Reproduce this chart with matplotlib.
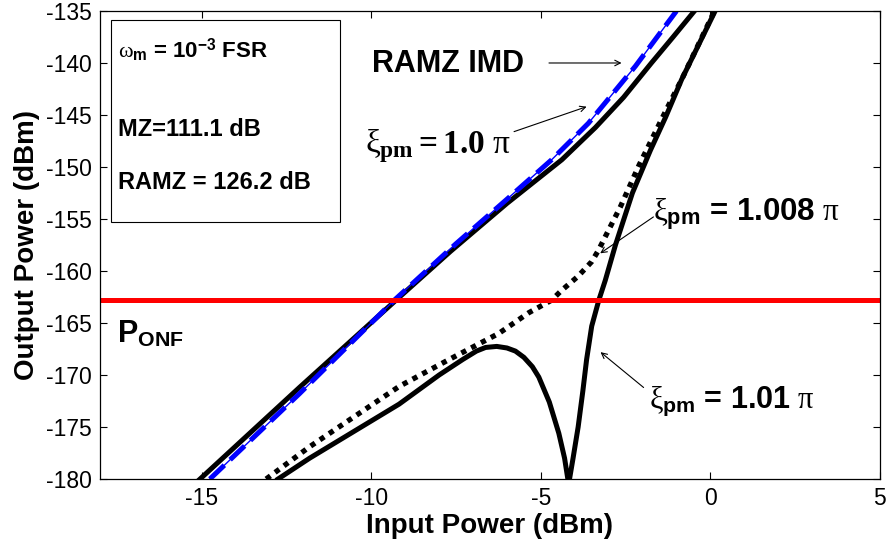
import numpy as np
import matplotlib
matplotlib.use("Agg")
import matplotlib.pyplot as plt
from matplotlib.patches import Rectangle

plt.rcParams['font.family'] = ['Liberation Sans', 'DejaVu Sans']
plt.rcParams['axes.unicode_minus'] = False
plt.rcParams['mathtext.fontset'] = 'custom'
plt.rcParams['mathtext.rm'] = 'Liberation Sans:bold'
plt.rcParams['mathtext.it'] = 'Liberation Serif'
plt.rcParams['mathtext.bf'] = 'Liberation Sans:bold'
plt.rcParams['mathtext.cal'] = 'Liberation Serif:bold'

# MZ IMD (blue dashed)
mz_x = [-14.76, -12.12, -9.32, -7.51, -6.0, -4.68, -3.6, -2.21, -1.0]
mz_y = [-180.0, -171.8, -162.8, -157.4, -153.1, -149.3, -145.8, -140.3, -135.0]

# RAMZ IMD, xi_pm = 1.0 pi
r10_x = [-15.05, -12.12, -9.27, -7.66, -6.0, -4.38, -3.39, -2.56, -1.74, -1.1, -0.47]
r10_y = [-180.0, -171.2, -162.8, -158.1, -153.5, -149.3, -146.2, -143.3, -140.0, -137.5, -135.0]

# xi_pm = 1.008 pi (dotted)
r1008_x = [-13.1, -11.82, -10.5, -9.18, -7.7, -6.24, -5.35, -4.68, -4.4, -3.9,
           -3.5, -3.3, -3.1, -2.65, -2.1, -1.3, -0.85, 0.12]
r1008_y = [-180.0, -176.9, -174.0, -171.1, -168.5, -166.0, -164.0, -162.8, -161.9,
           -160.5, -159.1, -158.0, -156.7, -153.8, -149.8, -144.5, -141.6, -135.0]

# xi_pm = 1.01 pi (solid with notch)
r101_x = [-12.75, -11.82, -10.5, -9.18, -8.0, -7.3, -6.9, -6.63, -6.3, -6.0, -5.75,
          -5.5, -5.25, -5.06, -4.75, -4.47, -4.3, -4.18, -4.05, -3.9, -3.76, -3.65,
          -3.5, -3.29, -3.1, -2.8, -2.3, -1.77, -1.32, -0.85, 0.14]
r101_y = [-180.0, -178.0, -175.4, -172.8, -170.0, -168.5, -167.7, -167.35, -167.25,
          -167.4, -167.7, -168.3, -169.2, -170.2, -172.6, -175.6, -178.0, -180.5, -178.0,
          -175.0, -171.5, -168.5, -165.3, -162.8, -160.9, -157.5, -152.5, -148.4, -145.2,
          -141.6, -135.0]

p_onf = -162.8

fig = plt.figure(figsize=(8.92, 5.52), dpi=100)
ax = fig.add_axes([0.1121, 0.1322, 0.8744, 0.8479])

ax.plot(r10_x, r10_y, color='k', lw=3.6, solid_joinstyle='round')
ax.plot(mz_x, mz_y, color='b', lw=1.0)
ax.plot(mz_x, mz_y, color='b', lw=3.6, linestyle=(0, (4, 1.6)), dash_capstyle='butt')
ax.plot(r101_x, r101_y, color='k', lw=3.6, solid_joinstyle='round')
ax.plot(r1008_x, r1008_y, color='k', lw=3.8, linestyle=(0, (1, 1.1)), dash_capstyle='butt')
ax.axhline(p_onf, color='r', lw=3.6)

ax.set_xlim(-18, 5)
ax.set_ylim(-180, -135)
ax.set_xticks([-15, -10, -5, 0, 5])
ax.set_yticks(np.arange(-180, -134, 5))
ax.tick_params(direction='in', length=5, width=0.8, labelsize=16.5, top=True, right=True, pad=6)
for s in ax.spines.values():
    s.set_linewidth(0.9)

ax.set_xlabel('Input Power (dBm)', fontsize=20, fontweight='bold', labelpad=2)
ax.set_ylabel('Output Power (dBm)', fontsize=20, fontweight='bold', labelpad=4)

# info box
ax.add_patch(Rectangle((-17.68, -155.3), 6.77, 19.43, fill=False, edgecolor='k', lw=0.8))
ax.text(-17.47, -138.8, r'$\omega_{\mathrm{m}}$ = 10$^{\mathrm{-3}}$ FSR', fontsize=16,
        fontweight='bold', va='center')
ax.text(-17.47, -146.4, 'MZ=111.1 dB', fontsize=17, fontweight='bold', va='center')
ax.text(-17.47, -151.5, 'RAMZ = 126.2 dB', fontsize=17, fontweight='bold', va='center')

ax.text(-17.5, -166.9, r'P$_{\mathrm{ONF}}$', fontsize=22, fontweight='bold', va='baseline')

ax.text(-9.97, -140.1, 'RAMZ IMD', fontsize=22, fontweight='bold', va='center')
ax.annotate('', xy=(-2.62, -140.0), xytext=(-4.76, -140.0),
            arrowprops=dict(arrowstyle='->', lw=0.8, color='k', shrinkA=0, shrinkB=0))

ax.text(-10.2, -148.7, r'$\xi_{\mathcal{pm}}\mathcal{=1.0}\ \pi$', fontsize=24, va='baseline')
ax.annotate('', xy=(-3.65, -144.2), xytext=(-5.79, -146.6),
            arrowprops=dict(arrowstyle='->', lw=0.8, color='k', shrinkA=0, shrinkB=0))

ax.text(-1.68, -155.1, r'$\xi_{\mathrm{pm}}$ = 1.008 $\pi$', fontsize=22.5, fontweight='bold',
        va='baseline')
ax.annotate('', xy=(-3.25, -158.3), xytext=(-1.68, -154.8),
            arrowprops=dict(arrowstyle='->', lw=0.8, color='k', shrinkA=0, shrinkB=0))

ax.text(-1.82, -173.1, r'$\xi_{\mathrm{pm}}$ = 1.01 $\pi$', fontsize=22, fontweight='bold',
        va='baseline')
ax.annotate('', xy=(-3.24, -167.8), xytext=(-1.97, -171.2),
            arrowprops=dict(arrowstyle='->', lw=0.8, color='k', shrinkA=0, shrinkB=0))

fig.savefig('out.png', dpi=100)
